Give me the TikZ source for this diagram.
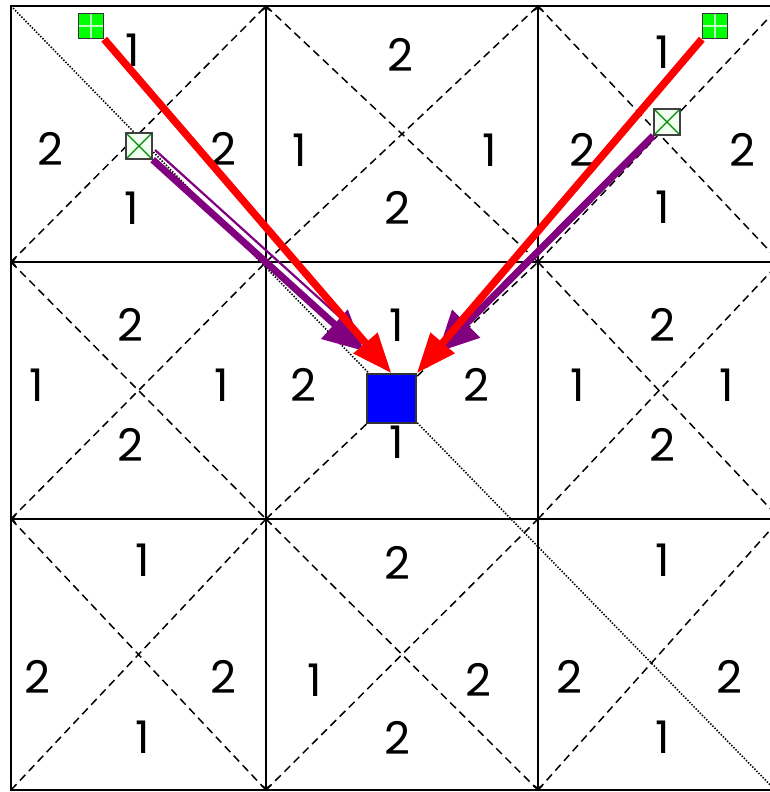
\documentclass[tikz,border=0pt]{standalone}
\usepackage{fontspec}
\setmainfont{Poppins}
\usepackage{xcolor}
\usepackage{tikz}
\usetikzlibrary{arrows.meta, positioning, calc}

\definecolor{pathred}{HTML}{FF0000}
\definecolor{pathpurple}{HTML}{800080}
\definecolor{goalblue}{HTML}{0000FF}
\definecolor{startgreen}{HTML}{00FF00}

\tikzset{
    gridline/.style={line width=1.9pt, {Straight Barb[length=3pt,width=8pt]}-{Straight Barb[length=3pt,width=8pt]}},
    diagline/.style={line width=1.5pt, dash pattern=on 8pt off 5pt},
    mainline/.style={line width=1.6pt, dash pattern=on 1.4pt off 1.6pt},
    num/.style={font=\fontsize{45}{45}\selectfont, inner sep=0pt},
    redarrow/.style={pathred, line width=7.5pt, -{Triangle[length=40pt,width=30pt]}},
    purplearrow/.style={pathpurple, line width=7pt, -{Triangle[length=40pt,width=38pt]}},
    startsq/.style={draw=black!80, line width=1.4pt, fill=startgreen, minimum size=25pt, inner sep=0pt,
        path picture={\draw[green!25!white, line width=1.5pt]
            (path picture bounding box.north) -- (path picture bounding box.south)
            (path picture bounding box.west) -- (path picture bounding box.east);}},
    crosssq/.style={draw=black!75, line width=1.4pt, fill=green!6, minimum size=26pt, inner sep=0pt,
        path picture={\draw[green!55!black, line width=1.3pt]
            (path picture bounding box.north west) -- (path picture bounding box.south east)
            (path picture bounding box.south west) -- (path picture bounding box.north east);}},
    goalsq/.style={draw=black!80, line width=1.4pt, fill=goalblue, minimum size=49pt, inner sep=0pt}
}

\begin{document}
\begin{tikzpicture}[x=1pt, y=-1pt]
    \useasboundingbox (0,0) rectangle (770,792);
    \clip (0,0) rectangle (770,792);

    % cell diagonals
    \foreach \xa/\xb in {11/266, 266/538, 538/780}
        \foreach \ya/\yb in {6/262, 262/519, 519/790}
            \draw[diagline] (\xa,\yb) -- (\xb,\ya);
    \foreach \xa/\xb/\ya/\yb in {266/538/6/262, 538/780/6/262, 11/266/262/519,
                                 538/780/262/519, 11/266/519/790, 266/538/519/790}
        \draw[diagline] (\xa,\ya) -- (\xb,\yb);
    \draw[mainline] (11,6) -- (780,795);

    % grid
    \draw[line width=1.9pt] (11,6) rectangle (780,790);
    \foreach \x in {266, 538}
        \draw[gridline] (\x,790) -- (\x,6);
    \foreach \y in {262, 519}
        \draw[gridline] (780,\y) -- (11,\y);

    % numbers
    \foreach \x/\y/\t [count=\i] in {
        133/50/1, 50/149/2, 223/149/2, 132/208/1,
        400/55/2, 300/150/1, 490/150/1, 397/208/2,
        663/52/1, 582/150/2, 742/150/2, 663/207/1,
        130/325/2, 37/385/1, 222/385/1, 130/445/2,
        397/325/1, 303/385/2, 476/385/2, 397/442/1,
        662/325/2, 578/385/1, 727/385/1, 662/445/2,
        143/560/1, 37/677/2, 223/677/2, 143/737/1,
        397/563/2, 315/680/1, 478/680/2, 397/738/2,
        663/560/1, 569/677/2, 729/677/2, 663/737/1}
        \node[num] (n\i) at (\x,\y) {\t};

    % agents and goal
    \node[startsq] (s1) at (91,26) {};
    \node[startsq] (s2) at (715,26) {};
    \node[crosssq] (c1) at (139,146) {};
    \node[crosssq] (c2) at (667,122) {};
    \node[goalsq] (goal) at (391.5,398.5) {};

    \coordinate (lp) at (364,351);
    \coordinate (rp) at (438,352);
    \coordinate (lt1) at (155,150);
    \coordinate (lt2) at (342,319);

    \draw[pathpurple, line width=2.2pt] (lt1) -- (lt2);
    \draw[purplearrow] (c1.south east) -- (lp);
    \draw[purplearrow] (c2.south west) -- (rp);
    \draw[redarrow] (s1.south east) -- (goal.north);
    \draw[redarrow] (s2.south west) -- (goal.north east);

    \node[startsq] at (s1) {};
    \node[startsq] at (s2) {};
    \node[crosssq] at (c1) {};
    \node[crosssq] at (c2) {};
    \node[goalsq] at (goal) {};
\end{tikzpicture}
\end{document}
